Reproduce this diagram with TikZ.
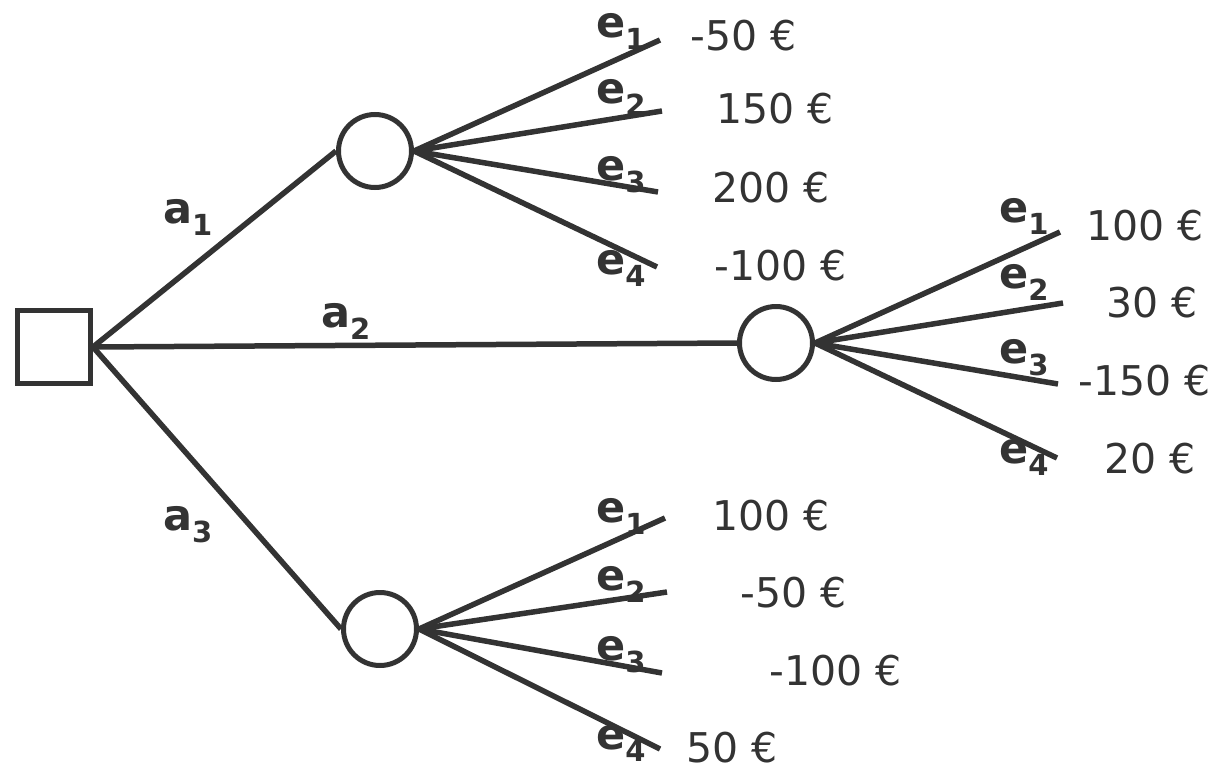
\documentclass[tikz,border=0pt]{standalone}
\usepackage{fontspec}
\setmainfont{DejaVu Sans}
\definecolor{ink}{HTML}{333333}
\newcommand{\lbl}[2]{\textbf{#1\raisebox{-0.3em}{\fontsize{29}{29}\selectfont #2}}}
\begin{document}
\begin{tikzpicture}[x=1pt,y=-1pt,
  every node/.style={text=ink},
  conn/.style={draw=ink,line width=5.5pt},
  chance/.style={circle,draw=ink,line width=5pt,minimum size=73pt,inner sep=0pt},
  decision/.style={rectangle,draw=ink,line width=5pt,minimum size=73pt,inner sep=0pt},
  val/.style={anchor=base west,inner sep=0pt,font=\fontsize{41}{49}\selectfont},
  elab/.style={anchor=base west,inner sep=0pt,font=\fontsize{43}{51}\selectfont}]
\useasboundingbox (0,0) rectangle (1224,771);
% nodes
\node[decision] (d) at (54,347) {};
\node[chance] (c1) at (375,151) {};
\node[chance] (c2) at (776,343) {};
\node[chance] (c3) at (380,629) {};
% main branches
\draw[conn] (d.east) -- (c1.west);
\draw[conn] (d.east) -- (c2.west);
\draw[conn] (d.east) -- (c3.west);
\node[elab] (la1) at (163,223) {\lbl{a}{1}};
\node[elab] (la2) at (321,327) {\lbl{a}{2}};
\node[elab] (la3) at (163,530) {\lbl{a}{3}};
% branch end points
\coordinate (p11) at (660,40);
\coordinate (p12) at (662,111);
\coordinate (p13) at (658,192);
\coordinate (p14) at (657,267);
\coordinate (p21) at (1060,232);
\coordinate (p22) at (1063,303);
\coordinate (p23) at (1058,384);
\coordinate (p24) at (1057,458);
\coordinate (p31) at (665,518);
\coordinate (p32) at (667,592);
\coordinate (p33) at (662,673);
\coordinate (p34) at (660,749);
\foreach \c in {1,2,3}{
  \foreach \k in {1,2,3,4}{
    \draw[conn] (c\c.east) -- (p\c\k);
  }
}
% event labels
\node[elab] (e11) at (596,37) {\lbl{e}{1}};
\node[elab] (e12) at (596,103) {\lbl{e}{2}};
\node[elab] (e13) at (596,180) {\lbl{e}{3}};
\node[elab] (e14) at (596,274) {\lbl{e}{4}};
\node[elab] (e21) at (999,222) {\lbl{e}{1}};
\node[elab] (e22) at (999,288) {\lbl{e}{2}};
\node[elab] (e23) at (999,363) {\lbl{e}{3}};
\node[elab] (e24) at (999,463) {\lbl{e}{4}};
\node[elab] (e31) at (596,522) {\lbl{e}{1}};
\node[elab] (e32) at (596,590) {\lbl{e}{2}};
\node[elab] (e33) at (596,660) {\lbl{e}{3}};
\node[elab] (e34) at (596,749) {\lbl{e}{4}};
% values
\node[val] (v11) at (690,50) {-50 €};
\node[val] (v12) at (716,123) {150 €};
\node[val] (v13) at (712,202) {200 €};
\node[val] (v14) at (714,280) {-100 €};
\node[val] (v21) at (1086,240) {100 €};
\node[val] (v22) at (1106,317) {30 €};
\node[val] (v23) at (1078,395) {-150 €};
\node[val] (v24) at (1104,473) {20 €};
\node[val] (v31) at (712,530) {100 €};
\node[val] (v32) at (740,607) {-50 €};
\node[val] (v33) at (769,685) {-100 €};
\node[val] (v34) at (686,762) {50 €};
\end{tikzpicture}
\end{document}
